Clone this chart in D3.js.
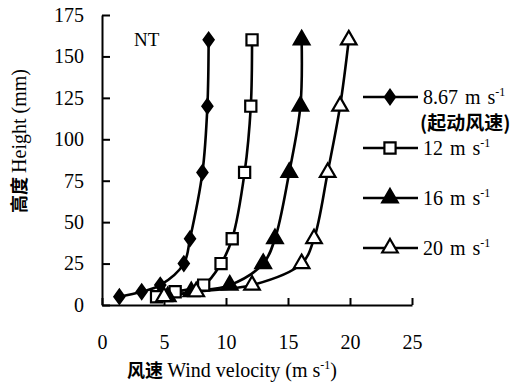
<!DOCTYPE html>
<html>
<head>
<meta charset="utf-8">
<script src="https://cdn.jsdelivr.net/npm/d3@7"></script>
<style>
  body { margin: 0; background: #fff; }
  text { font-family: "Liberation Serif", "Times New Roman", serif; fill: #000; }
  .cjk { font-family: "Noto Sans CJK SC", sans-serif; font-weight: bold; }
</style>
</head>
<body>
<div id="chart"></div>
<script>
// heights (mm) and wind velocities (m s-1)
const heights = [5, 8, 12, 25, 40, 80, 120, 160];
const v867 = [1.4, 3.2, 4.7, 6.6, 7.1, 8.1, 8.5, 8.6];
const v12 = [4.4, 5.9, 8.2, 9.6, 10.5, 11.5, 12.0, 12.1];
const v16 = [5.3, 7.2, 10.3, 13.0, 13.95, 15.1, 16.0, 16.1];
const v20 = [5.0, 7.6, 12.1, 16.1, 17.1, 18.2, 19.2, 19.9];
const xTicks = [0, 5, 10, 15, 20, 25];
const yTicks = [0, 25, 50, 75, 100, 125, 150, 175];

// diamond a bit wider than d3's own
const wideDiamond = {
  draw(ctx, size) {
    const h = Math.sqrt(size) * 0.64, w = h * 0.72;
    ctx.moveTo(0, -h); ctx.lineTo(w, 0); ctx.lineTo(0, h); ctx.lineTo(-w, 0); ctx.closePath();
  }
};

const series = [
  { name: '8.67', vals: v867, sym: wideDiamond, fill: '#000', size: 120 },
  { name: '12', vals: v12, sym: d3.symbolSquare, fill: '#fff', size: 125 },
  { name: '16', vals: v16, sym: d3.symbolTriangle, fill: '#000', size: 105 },
  { name: '20', vals: v20, sym: d3.symbolTriangle, fill: '#fff', size: 105 }
];

const width = 519, height = 388;
const svg = d3.select('#chart').append('svg')
  .attr('width', width).attr('height', height);

const x = d3.scaleLinear().domain([0, 25]).range([102, 412]);
const y = d3.scaleLinear().domain([0, 175]).range([305, 15]);

// axes, ticks pointing inward
const xAxis = svg.append('g').attr('transform', 'translate(0,305)')
  .call(d3.axisBottom(x).tickValues(xTicks).tickSizeInner(-7).tickSizeOuter(0).tickPadding(30));
const yAxis = svg.append('g').attr('transform', 'translate(102,0)')
  .call(d3.axisLeft(y).tickValues(yTicks).tickSizeInner(-8).tickSizeOuter(0).tickPadding(18));
[xAxis, yAxis].forEach(g => {
  g.select('.domain').attr('stroke-width', 2);
  g.selectAll('.tick line').attr('stroke-width', 2);
  g.selectAll('.tick text').style('font-size', '20px');
});

const line = d3.line()
  .x((d, i) => x(d))
  .y((d, i) => y(heights[i]))
  .curve(d3.curveCatmullRom.alpha(0.5));

series.forEach(s => {
  svg.append('path')
    .attr('d', line(s.vals))
    .attr('fill', 'none')
    .attr('stroke', '#000')
    .attr('stroke-width', 2.6);
});
series.forEach(s => {
  svg.selectAll(null)
    .data(s.vals)
    .enter()
    .append('path')
    .attr('d', d3.symbol().type(s.sym).size(s.size))
    .attr('transform', (d, i) => `translate(${x(d)},${y(heights[i])})`)
    .attr('fill', s.fill)
    .attr('stroke', '#000')
    .attr('stroke-width', 2.2);
});

svg.append('text').attr('x', 134).attr('y', 46).style('font-size', '19px').text('NT');

// legend
const legY = [97, 148, 198, 248];
series.forEach((s, i) => {
  const g = svg.append('g').attr('transform', `translate(0,${legY[i]})`);
  g.append('line').attr('x1', 363).attr('x2', 418).attr('y1', 0).attr('y2', 0)
    .attr('stroke', '#000').attr('stroke-width', 2.6);
  g.append('path').attr('d', d3.symbol().type(s.sym).size(s.size))
    .attr('transform', 'translate(390,0)')
    .attr('fill', s.fill).attr('stroke', '#000').attr('stroke-width', 2.2);
  const t = g.append('text').attr('x', 423).attr('y', 7)
    .style('font-size', '20px').style('word-spacing', '2px');
  t.append('tspan').text(s.name + ' m s');
  t.append('tspan').attr('dy', -8).style('font-size', '12px').text('-1');
  if (i === 0) {
    g.append('text').attr('x', 420).attr('y', 33).attr('class', 'cjk')
      .style('font-size', '19px').text('(起动风速)');
  }
});

// axis titles
const yl = svg.append('text')
  .attr('transform', 'translate(26,141) rotate(-90)')
  .attr('text-anchor', 'middle').style('font-size', '20px');
yl.append('tspan').attr('class', 'cjk').style('font-size', '18px').text('高度 ');
yl.append('tspan').text('Height (mm)');

const xl = svg.append('text').attr('x', 232).attr('y', 377)
  .attr('text-anchor', 'middle').style('font-size', '20px');
xl.append('tspan').attr('class', 'cjk').style('font-size', '18px').text('风速 ');
xl.append('tspan').text('Wind velocity (m s');
xl.append('tspan').attr('dy', -8).style('font-size', '12px').text('-1');
xl.append('tspan').attr('dy', 8).text(')');
</script>
</body>
</html>
